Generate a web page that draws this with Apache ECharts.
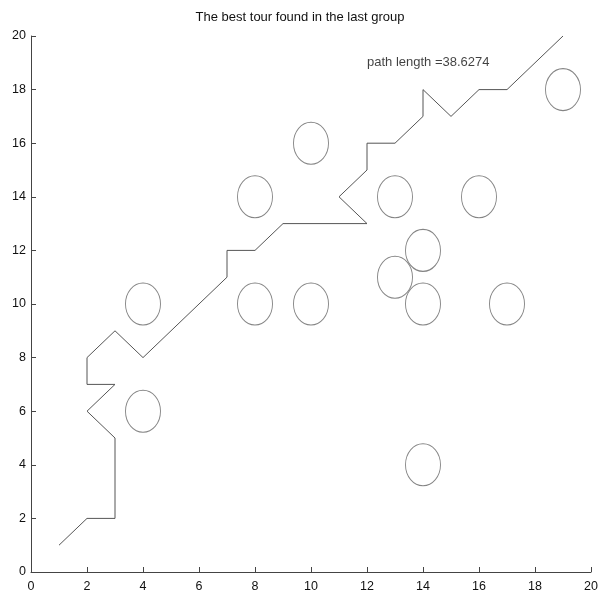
<!DOCTYPE html>
<html><head><meta charset="utf-8">
<script src="https://cdn.jsdelivr.net/npm/echarts@6/dist/echarts.min.js"></script>
<style>html,body{margin:0;padding:0;background:#fff}#c{width:600px;height:591px}</style>
</head><body><div id="c"></div>
<script>
const titleText = "The best tour found in the last group";
const lengthText = "path length =38.6274";
const lengthPos = [12, 19];
const tourPath = [[1,1],[2,2],[3,2],[3,5],[2,6],[3,7],[2,7],[2,8],[3,9],[4,8],[7,11],[7,12],[8,12],[9,13],[12,13],[11,14],[12,15],[12,16],[13,16],[14,17],[14,18],[15,17],[16,18],[17,18],[19,20]];
const cities = [[4,10],[4,6],[8,14],[8,10],[10,16],[10,10],[13,14],[14,12],[13,11],[14,10],[16,14],[17,10],[19,18],[14,4]];
const xTicks = [0,2,4,6,8,10,12,14,16,18,20];
const yTicks = [0,2,4,6,8,10,12,14,16,18,20];

const chart = echarts.init(document.getElementById('c'));
const axisCommon = {
  type: 'value', min: 0, max: 20, interval: 2,
  splitLine: {show: false},
  axisLine: {show: true, lineStyle: {color: '#444', width: 1}},
  axisTick: {show: true, inside: true, length: 5, lineStyle: {color: '#444'}},
  axisLabel: {color: '#111', fontFamily: 'Liberation Sans, Arial', fontSize: 12.5,
    formatter: v => String(v)}
};
chart.setOption({
  animation: false,
  backgroundColor: '#fff',
  title: {text: titleText, left: 'center', top: 6,
    textStyle: {fontFamily: 'Liberation Sans, Arial', fontSize: 13, fontWeight: 'normal', color: '#111'}},
  grid: {left: 31, right: 9, top: 36, bottom: 19, containLabel: false, outerBoundsMode: 'none'},
  xAxis: Object.assign({}, axisCommon, {axisLabel: Object.assign({}, axisCommon.axisLabel, {margin: 8,
    formatter: v => xTicks.includes(v) ? String(v) : ''})}),
  yAxis: Object.assign({}, axisCommon, {axisLabel: Object.assign({}, axisCommon.axisLabel, {margin: 5,
    formatter: v => yTicks.includes(v) ? String(v) : ''})}),
  series: [
    {type: 'line', data: tourPath, symbol: 'none', lineStyle: {color: '#555', width: 1}},
    {type: 'scatter', data: cities, symbol: 'circle', symbolSize: [35, 42],
      itemStyle: {color: 'rgba(0,0,0,0)', borderColor: '#666', borderWidth: 1}},
    {type: 'scatter', data: [lengthPos], symbolSize: 0,
      label: {show: true, position: 'right', distance: 0, formatter: lengthText,
        fontFamily: 'Liberation Sans, Arial', fontSize: 13, color: '#111'}}
  ]
});
</script></body></html>
